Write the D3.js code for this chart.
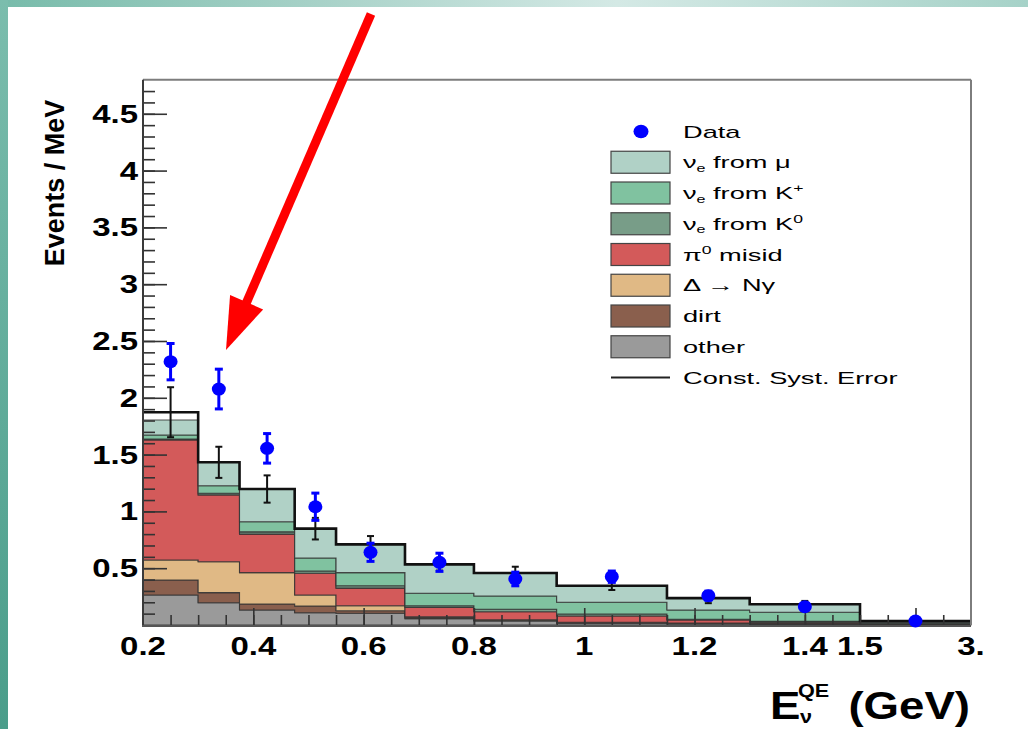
<!DOCTYPE html>
<html><head><meta charset="utf-8">
<script src="https://cdn.jsdelivr.net/npm/d3@7"></script>
<style>body{margin:0;background:#fff}svg{display:block}</style>
</head><body>
<svg id="c" width="1028" height="729"></svg>
<script>
// ---------------- data ----------------
const binEdges = [0.2, 0.3, 0.375, 0.475, 0.55, 0.675, 0.8, 0.95, 1.15, 1.3, 1.5, 3.0];
// stacked contributions (Events / MeV), bottom to top
const other   = [0.264, 0.196, 0.132, 0.108, 0.103, 0.055, 0.035, 0.015, 0.012, 0.010, 0.005];
const dirt    = [0.132, 0.089, 0.053, 0.059, 0.023, 0.010, 0.007, 0.005, 0.003, 0.002, 0.002];
const deltaNg = [0.176, 0.272, 0.276, 0.097, 0.044, 0.007, 0.004, 0.004, 0.003, 0.002, 0.001];
const pi0     = [1.057, 0.588, 0.339, 0.191, 0.155, 0.083, 0.071, 0.055, 0.026, 0.011, 0.004];
const nueK0   = [0.008, 0.015, 0.020, 0.020, 0.020, 0.015, 0.021, 0.018, 0.006, 0.007, 0.004];
const nueKp   = [0.036, 0.066, 0.089, 0.115, 0.116, 0.109, 0.117, 0.103, 0.082, 0.080, 0.008];
const nueMu   = [0.132, 0.206, 0.288, 0.258, 0.249, 0.255, 0.203, 0.146, 0.105, 0.070, 0.009];
// total prediction with constant systematic error
const total    = [1.873, 1.432, 1.197, 0.848, 0.710, 0.534, 0.458, 0.346, 0.237, 0.182, 0.035];
const totalErr = [0.220, 0.137, 0.120, 0.095, 0.073, 0.055, 0.055, 0.038, 0.045, 0.030, 0.020];
// data points
const dataVal = [2.318, 2.077, 1.555, 1.041, 0.640, 0.552, 0.405, 0.425, 0.258, 0.161, 0.035];
const dataErr = [0.160, 0.175, 0.130, 0.120, 0.080, 0.080, 0.060, 0.050, 0.040, 0.030, 0.020];
// axis ticks
const xLabelVals = [0.2, 0.4, 0.6, 0.8, 1.0, 1.2, 1.4, 1.5, 3.0];
const xLabels = ["0.2", "0.4", "0.6", "0.8", "1", "1.2", "1.4", "1.5", "3."];
const xMajor = [0.4, 0.6, 0.8, 1.0, 1.2, 1.4, 2.25];
const xMinorExtra = [1.875, 2.625];
const yLabelVals = [0.5, 1, 1.5, 2, 2.5, 3, 3.5, 4, 4.5];
const yLabels = ["0.5", "1", "1.5", "2", "2.5", "3", "3.5", "4", "4.5"];

const seriesList = [
  {name: "other", vals: other, color: "#9a9a9a"},
  {name: "dirt", vals: dirt, color: "#8a5f4d"},
  {name: "delta", vals: deltaNg, color: "#e0b985"},
  {name: "pi0", vals: pi0, color: "#d35a5a"},
  {name: "K0", vals: nueK0, color: "#789d88"},
  {name: "Kp", vals: nueKp, color: "#80c2a0"},
  {name: "mu", vals: nueMu, color: "#b0d1c6"}
];

// ---------------- layout ----------------
const svg = d3.select("#c");
const X0 = 143, X15 = 860, X1 = 971, Y0 = 625, YT = 79.7;
const x = d3.scaleLinear().domain([0.2, 1.5, 3.0]).range([X0, X15, X1]);
const y = d3.scaleLinear().domain([0, 4.8]).range([Y0, YT]);
const FONT = "'Liberation Sans', Arial, Helvetica, sans-serif";

// slide background
const defs = svg.append("defs");
const gTop = defs.append("linearGradient").attr("id", "gTop").attr("x1", 0).attr("x2", 1).attr("y1", 0).attr("y2", 0);
[[0, "#77bbaa"], [0.3, "#a6d1c7"], [0.6, "#d4e9e5"], [1, "#a6d2c8"]].forEach(s => gTop.append("stop").attr("offset", s[0]).attr("stop-color", s[1]));
const gLeft = defs.append("linearGradient").attr("id", "gLeft").attr("x1", 0).attr("x2", 0).attr("y1", 0).attr("y2", 1);
[[0, "#7bbdad"], [1, "#4a9d8a"]].forEach(s => gLeft.append("stop").attr("offset", s[0]).attr("stop-color", s[1]));
svg.append("rect").attr("width", 1028).attr("height", 729).attr("fill", "#fff");
svg.append("rect").attr("x", 0).attr("y", 0).attr("width", 1028).attr("height", 7).attr("fill", "url(#gTop)");
svg.append("rect").attr("x", 0).attr("y", 0).attr("width", 8).attr("height", 729).attr("fill", "url(#gLeft)");

// ---------------- stacked histogram ----------------
const nb = total.length;
let cum = new Array(nb).fill(0);
const area = d3.area().curve(d3.curveStepAfter)
  .x(d => x(d.e)).y0(d => y(d.b)).y1(d => y(d.t));
const plotG = svg.append("g");
seriesList.forEach(s => {
  const pts = [];
  for (let i = 0; i < nb; i++) {
    pts.push({e: binEdges[i], b: cum[i], t: cum[i] + s.vals[i]});
  }
  pts.push({e: binEdges[nb], b: pts[nb - 1].b, t: pts[nb - 1].t});
  plotG.append("path").attr("d", area(pts)).attr("fill", s.color)
    .attr("stroke", "#333").attr("stroke-opacity", 0.85).attr("stroke-width", 1.1);
  cum = cum.map((c, i) => c + s.vals[i]);
});

// total prediction (thick black step line)
const totPts = total.map((v, i) => ({e: binEdges[i], v}));
totPts.push({e: binEdges[nb], v: total[nb - 1]});
const line = d3.line().curve(d3.curveStepAfter).x(d => x(d.e)).y(d => y(d.v));
plotG.append("path").attr("d", line(totPts)).attr("fill", "none")
  .attr("stroke", "#111").attr("stroke-width", 2.6);

const centers = d3.range(nb).map(i => (binEdges[i] + binEdges[i + 1]) / 2);

// axis frame
svg.append("line").attr("x1", X0).attr("x2", X1).attr("y1", YT).attr("y2", YT).attr("stroke", "#7d7d7d").attr("stroke-width", 2);
svg.append("line").attr("x1", X1).attr("x2", X1).attr("y1", YT).attr("y2", Y0).attr("stroke", "#7d7d7d").attr("stroke-width", 2);

// ticks (inward)
const xMinor = d3.range(0, 26).map(i => 0.25 + i * 0.05).concat(xMinorExtra);
function styleTicks(g) {
  g.select(".domain").remove();
  g.selectAll(".tick line").attr("stroke", "#333").attr("stroke-width", 1.6);
}
svg.append("g").attr("transform", `translate(0,${Y0})`)
  .call(d3.axisBottom(x).tickValues(xMinor).tickSizeInner(-10).tickSizeOuter(0).tickFormat(""))
  .call(styleTicks);
svg.append("g").attr("transform", `translate(0,${Y0})`)
  .call(d3.axisBottom(x).tickValues(xMajor).tickSizeInner(-17).tickSizeOuter(0).tickFormat(""))
  .call(styleTicks);
const yMinor = d3.range(1, 48).map(i => i * 0.1);
svg.append("g").attr("transform", `translate(${X0},0)`)
  .call(d3.axisLeft(y).tickValues(yMinor).tickSizeInner(-12).tickSizeOuter(0).tickFormat(""))
  .call(styleTicks);
svg.append("g").attr("transform", `translate(${X0},0)`)
  .call(d3.axisLeft(y).tickValues(yLabelVals).tickSizeInner(-24).tickSizeOuter(0).tickFormat(""))
  .call(styleTicks);
// axis lines
svg.append("line").attr("x1", X0).attr("x2", X0).attr("y1", YT).attr("y2", Y0 + 1).attr("stroke", "#3a3a3a").attr("stroke-width", 2);
svg.append("line").attr("x1", X0 - 1).attr("x2", X1).attr("y1", Y0 + 1).attr("y2", Y0 + 1).attr("stroke", "#555").attr("stroke-width", 2);

// systematic error bars (black)
const errG = svg.append("g").attr("stroke", "#111").attr("stroke-width", 2);
centers.forEach((c, i) => {
  const cx = x(c), y1 = y(total[i] + totalErr[i]), y2 = y(total[i] - totalErr[i]);
  errG.append("line").attr("x1", cx).attr("x2", cx).attr("y1", y1).attr("y2", Math.min(y2, Y0));
  errG.append("line").attr("x1", cx - 3.5).attr("x2", cx + 3.5).attr("y1", y1).attr("y2", y1);
  if (y2 < Y0) errG.append("line").attr("x1", cx - 3.5).attr("x2", cx + 3.5).attr("y1", y2).attr("y2", y2);
});

// data points (blue)
const dG = svg.append("g");
centers.forEach((c, i) => {
  const cx = x(c), y1 = y(dataVal[i] + dataErr[i]), y2 = y(dataVal[i] - dataErr[i]);
  dG.append("line").attr("x1", cx).attr("x2", cx).attr("y1", y1).attr("y2", y2).attr("stroke", "#0000ff").attr("stroke-width", 3);
  dG.append("line").attr("x1", cx - 4).attr("x2", cx + 4).attr("y1", y1).attr("y2", y1).attr("stroke", "#0000ff").attr("stroke-width", 3);
  dG.append("line").attr("x1", cx - 4).attr("x2", cx + 4).attr("y1", y2).attr("y2", y2).attr("stroke", "#0000ff").attr("stroke-width", 3);
  dG.append("ellipse").attr("cx", cx).attr("cy", y(dataVal[i])).attr("rx", 7).attr("ry", 6.5).attr("fill", "#0000ff");
});

// ---------------- text helpers ----------------
function stext(parent, tx, ty, sx, size, weight, anchor, rot) {
  const g = parent.append("g").attr("transform", `translate(${tx},${ty})` + (rot ? ` rotate(${rot})` : "") + ` scale(${sx},1)`);
  return g.append("text").attr("font-family", FONT).attr("font-size", size)
    .attr("font-weight", weight).attr("text-anchor", anchor).attr("fill", "#000");
}

// tick labels
xLabelVals.forEach((v, i) => {
  stext(svg, x(v), 655, 1.32, 25, "bold", "middle").text(xLabels[i]);
});
yLabelVals.forEach((v, i) => {
  stext(svg, 138, y(v) + 9, 1.32, 25, "bold", "end").text(yLabels[i]);
});

// axis titles
stext(svg, 64, 183, 1.0, 27, "bold", "middle", -90).text("Events / MeV");
stext(svg, 770, 719, 1.2, 38, "bold", "start").text("E");
stext(svg, 800, 723, 1.2, 18, "bold", "start").text("\u03bd");
stext(svg, 798, 697, 1.2, 18, "bold", "start").text("QE");
stext(svg, 970, 719, 1.2, 38, "bold", "end").text("(GeV)");

// ---------------- legend ----------------
const legendRows = [
  {type: "dot", parts: [["Data", ""]]},
  {type: "box", color: "#b0d1c6", parts: [["\u03bd", ""], ["e", "sub"], [" from \u03bc", ""]]},
  {type: "box", color: "#80c2a0", parts: [["\u03bd", ""], ["e", "sub"], [" from K", ""], ["+", "sup"]]},
  {type: "box", color: "#789d88", parts: [["\u03bd", ""], ["e", "sub"], [" from K", ""], ["0", "sup"]]},
  {type: "box", color: "#d35a5a", parts: [["\u03c0", ""], ["0", "sup"], [" misid", ""]]},
  {type: "box", color: "#e0b985", parts: [["\u0394 \u2192 N\u03b3", ""]]},
  {type: "box", color: "#8a5f4d", parts: [["dirt", ""]]},
  {type: "box", color: "#9a9a9a", parts: [["other", ""]]},
  {type: "line", parts: [["Const. Syst. Error", ""]]}
];
const lg = svg.append("g");
legendRows.forEach((r, i) => {
  const cy = 131.5 + i * 30.75;
  if (r.type === "dot") lg.append("ellipse").attr("cx", 641).attr("cy", cy).attr("rx", 7.5).attr("ry", 6.8).attr("fill", "#0000ff");
  if (r.type === "box") lg.append("rect").attr("x", 611).attr("y", cy - 11).attr("width", 59).attr("height", 22)
    .attr("fill", r.color).attr("stroke", "#444").attr("stroke-width", 1.2);
  if (r.type === "line") lg.append("line").attr("x1", 611).attr("x2", 670).attr("y1", cy).attr("y2", cy).attr("stroke", "#222").attr("stroke-width", 2);
  const t = stext(lg, 683, cy + 6.2, 1.6, 17, "normal", "start");
  r.parts.forEach((p, k) => {
    const ts = t.append("tspan").text(p[0]);
    if (p[1] === "sub") ts.attr("font-size", 10).attr("dy", 3.5);
    if (p[1] === "sup") ts.attr("font-size", 11).attr("dy", -7);
    if (p[1] === "" && k > 0) {
      const prev = r.parts[k - 1];
      if (prev[1] === "sub") ts.attr("dy", -3.5);
      if (prev[1] === "sup") ts.attr("dy", 7);
    }
  });
});

// ---------------- red arrow ----------------
const tip = [226, 350], tail = [371, 14];
const dx = tip[0] - tail[0], dy = tip[1] - tail[1], L = Math.hypot(dx, dy);
const ux = dx / L, uy = dy / L, px = -uy, py = ux;
const headLen = 52, headHalf = 18;
const base = [tip[0] - ux * headLen, tip[1] - uy * headLen];
svg.append("line").attr("x1", tail[0]).attr("y1", tail[1]).attr("x2", base[0] + ux * 4).attr("y2", base[1] + uy * 4)
  .attr("stroke", "#ff0000").attr("stroke-width", 9);
svg.append("polygon").attr("points", [
  tip, [base[0] + px * headHalf, base[1] + py * headHalf], [base[0] - px * headHalf, base[1] - py * headHalf]
].map(p => p.join(",")).join(" ")).attr("fill", "#ff0000");
</script>
</body></html>
